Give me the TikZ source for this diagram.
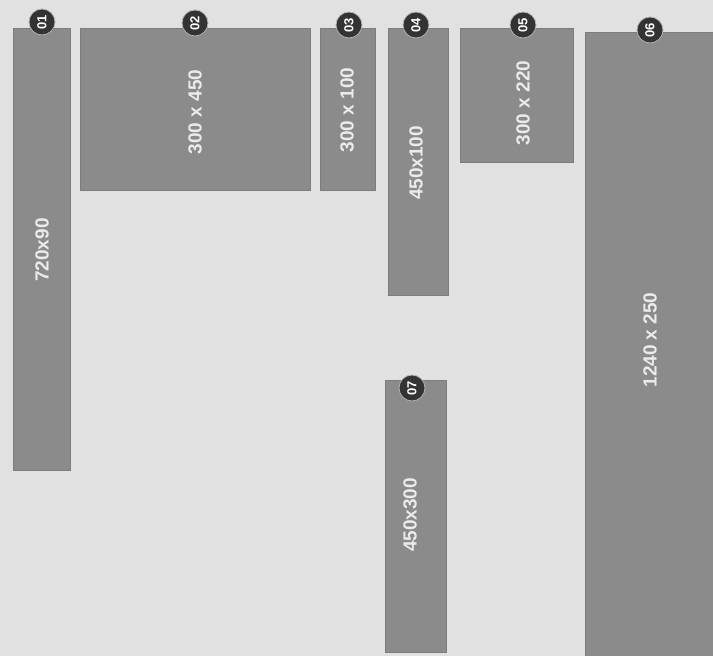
\documentclass[tikz,border=0pt]{standalone}
\usepackage{fontspec}
\setmainfont{Liberation Sans}
\definecolor{bg}{HTML}{E1E1E1}
\definecolor{blockc}{HTML}{8B8B8B}
\definecolor{blockedge}{HTML}{7C7C7C}
\definecolor{badgec}{HTML}{333333}
\tikzset{
  blockbox/.style={fill=blockc, draw=blockedge, line width=0.8pt},
  sizelabel/.style={text=white!92!black, rotate=90, font=\bfseries\fontsize{19}{20}\selectfont, inner sep=0pt},
  badge/.style={circle, fill=badgec, draw=white!70!black, line width=0.8pt, minimum size=26pt, inner sep=0pt, text=white, font=\bfseries\fontsize{13}{13}\selectfont, rotate=90}
}
\begin{document}
\begin{tikzpicture}[x=1pt,y=-1pt]
\useasboundingbox (0,0) rectangle (713,656);
\fill[bg] (0,0) rectangle (713,656);
% blocks
\draw[blockbox] (13,28) rectangle (70,470);
\draw[blockbox] (80,28) rectangle (310,190);
\draw[blockbox] (320,28) rectangle (375,190);
\draw[blockbox] (388,28) rectangle (448,295);
\draw[blockbox] (460,28) rectangle (573,162);
\draw[blockbox] (585,32) rectangle (716,656);
\draw[blockbox] (385,380) rectangle (446,652);
% size labels
\node[sizelabel] (l1) at (42,250) {720x90};
\node[sizelabel] (l2) at (195,112) {300 x 450};
\node[sizelabel] (l3) at (347,110) {300 x 100};
\node[sizelabel] (l4) at (416,163) {450x100};
\node[sizelabel] (l5) at (523,103) {300 x 220};
\node[sizelabel] (l6) at (650,340) {1240 x 250};
\node[sizelabel] (l7) at (410,515) {450x300};
% badges
\node[badge] (b1) at (42,22) {01};
\node[badge] (b2) at (195,23) {02};
\node[badge] (b3) at (349,25) {03};
\node[badge] (b4) at (416,25) {04};
\node[badge] (b5) at (523,25) {05};
\node[badge] (b6) at (650,30) {06};
\node[badge] (b7) at (412,388) {07};
\end{tikzpicture}
\end{document}
